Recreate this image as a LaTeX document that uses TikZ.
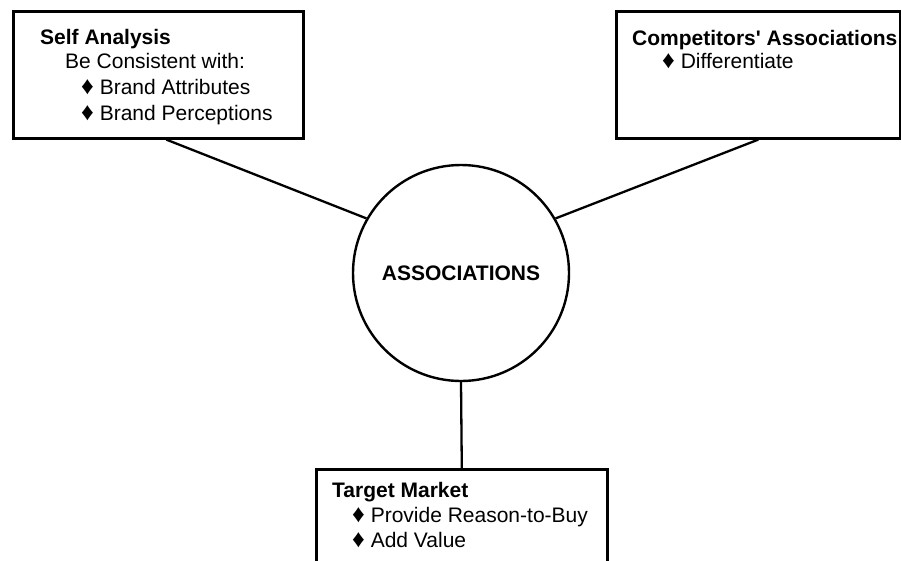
\documentclass[tikz,border=0pt]{standalone}
\usepackage{fontspec}
\setmainfont{Liberation Sans}
% slightly enlarged diamond bullet
\newcommand{\dbul}{{\fontsize{25}{25}\selectfont ♦}}
\begin{document}
\begin{tikzpicture}[x=1pt,y=-1pt,
  frame/.style={draw, line width=2.6pt, fill=white},
  link/.style={line width=2.3pt},
  head/.style={anchor=base west, inner sep=0pt, font=\fontsize{21}{25}\selectfont\bfseries},
  item/.style={anchor=base west, inner sep=0pt, font=\fontsize{21}{25}\selectfont},
  hub/.style={circle, draw, line width=2.4pt, minimum size=216pt, inner sep=0pt,
              font=\fontsize{21}{25}\selectfont\bfseries}]
  \useasboundingbox (0,0) rectangle (901,560);
  \clip (0,0) rectangle (901,560);

  % outer boxes
  \node[frame, rectangle, anchor=north west, minimum width=290pt, minimum height=127pt] (self) at (12,10) {};
  \node[frame, rectangle, anchor=north west, minimum width=284pt, minimum height=127pt] (comp) at (615,10) {};
  \node[frame, rectangle, anchor=north west, minimum width=291pt, minimum height=140pt] (target) at (315,468) {};

  % central circle
  \node[hub] (assoc) at (461,273) {ASSOCIATIONS};

  % connectors
  \coordinate (selfout) at ([xshift=8pt]self.south);
  \draw[link] (selfout) -- (assoc.150);
  \draw[link] (comp.south) -- (assoc.30);
  \draw[link] (assoc.south) -- (target.north);

  % self analysis text
  \node[head] (selfT) at (40,44) {Self Analysis};
  \node[item] (selfA) at (65,68) {Be Consistent with:};
  \node[item] (selfB) at (81,94) {\dbul\ Brand Attributes};
  \node[item] (selfC) at (81,120) {\dbul\ Brand Perceptions};

  % competitors text
  \node[head] (compT) at (632,45) {Competitors\textquotesingle\ Associations};
  \node[item] (compA) at (662,68) {\dbul\ Differentiate};

  % target market text
  \node[head] (tgtT) at (332,497) {Target Market};
  \node[item] (tgtA) at (352,522) {\dbul\ Provide Reason-to-Buy};
  \node[item] (tgtB) at (352,547) {\dbul\ Add Value};
\end{tikzpicture}
\end{document}
